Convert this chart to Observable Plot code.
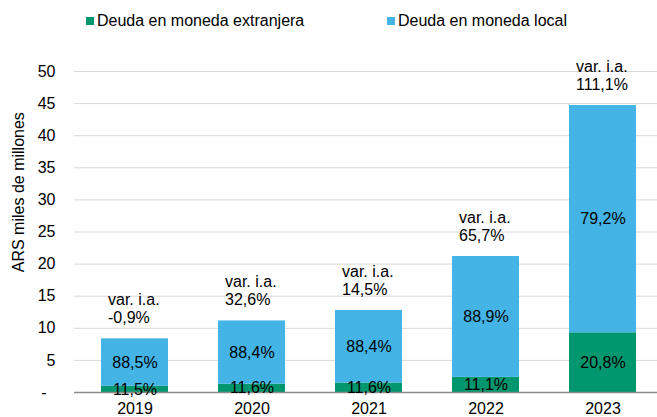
<!DOCTYPE html>
<html><head><meta charset="utf-8">
<script src="https://cdn.jsdelivr.net/npm/d3@7"></script>
<script src="https://cdn.jsdelivr.net/npm/@observablehq/plot@0.6"></script>
<style>
body{margin:0;background:#fff;font-family:"Liberation Sans",Arial,sans-serif;}
#wrap{position:relative;width:657px;height:417px;overflow:hidden;}
.leg{position:absolute;top:11px;font-size:16px;color:#000;display:flex;align-items:center;line-height:20px;white-space:nowrap}
.sw{display:inline-block;width:8px;height:8px;margin-right:3px}
#chart{position:absolute;top:40px;left:0}
</style></head><body>
<div id="wrap">
<div class="leg" style="left:86px"><span class="sw" style="background:#00966E"></span>Deuda en moneda extranjera</div>
<div class="leg" style="left:387px"><span class="sw" style="background:#43B4E5"></span>Deuda en moneda local</div>
<div id="chart"></div>
</div>
<script>
const years = ["2019", "2020", "2021", "2022", "2023"];
const seriesNames = ["Deuda en moneda extranjera", "Deuda en moneda local"];
const foreign = [0.96, 1.29, 1.48, 2.35, 9.30];
const local = [7.40, 9.86, 11.30, 18.83, 35.40];
const foreignShare = ["11,5%", "11,6%", "11,6%", "11,1%", "20,8%"];
const localShare = ["88,5%", "88,4%", "88,4%", "88,9%", "79,2%"];
const growth = ["-0,9%", "32,6%", "14,5%", "65,7%", "111,1%"];
const yTicks = [0, 5, 10, 15, 20, 25, 30, 35, 40, 45, 50];
const colors = ["#00966E", "#43B4E5"];

const rows = years.flatMap((y, i) => [
  {year: y, series: seriesNames[0], value: foreign[i], label: foreignShare[i]},
  {year: y, series: seriesNames[1], value: local[i], label: localShare[i]}
]);
const totals = years.map((y, i) => ({year: y, total: foreign[i] + local[i], label: "var. i.a.\n" + growth[i]}));

const chart = Plot.plot({
  width: 657, height: 377,
  marginLeft: 74, marginRight: -6, marginTop: 31, marginBottom: 25,
  style: {fontFamily: "Liberation Sans, Arial, sans-serif", fontSize: "16px", color: "#000", background: "#fff"},
  x: {domain: years, paddingInner: 0.43, paddingOuter: 0.215, align: 0.5},
  y: {domain: [0, 50]},
  color: {domain: seriesNames, range: colors},
  marks: [
    Plot.gridY(yTicks.slice(1), {stroke: "#d9d9d9", strokeOpacity: 1, strokeWidth: 1}),
    Plot.barY(rows, {x: "year", y: "value", fill: "series"}),
    Plot.ruleY([0], {stroke: "#8c8c8c", strokeWidth: 1.5}),
    Plot.text(rows, Plot.stackY({x: "year", y: "value", z: "series", text: "label", fill: "#000"})),
    Plot.text(totals, {x: "year", y: "total", text: "label", textAnchor: "start", dx: -27, dy: -30.5, lineAnchor: "middle", lineHeight: 1.15, fill: "#000"}),
    Plot.axisY(yTicks, {tickSize: 0, tickPadding: 19, tickFormat: d => d === 0 ? "-\u00a0\u00a0" : String(d), label: null, fill: "#000"}),
    Plot.axisX({tickSize: 0, tickPadding: 10, label: null, fill: "#000"}),
    Plot.text(["ARS miles de millones"], {frameAnchor: "left", y: () => 31.2, dx: -56, rotate: -90, textAnchor: "middle", lineAnchor: "middle", text: d => d, fill: "#000"})
  ]
});
document.getElementById("chart").appendChild(chart);
</script>
</body></html>
